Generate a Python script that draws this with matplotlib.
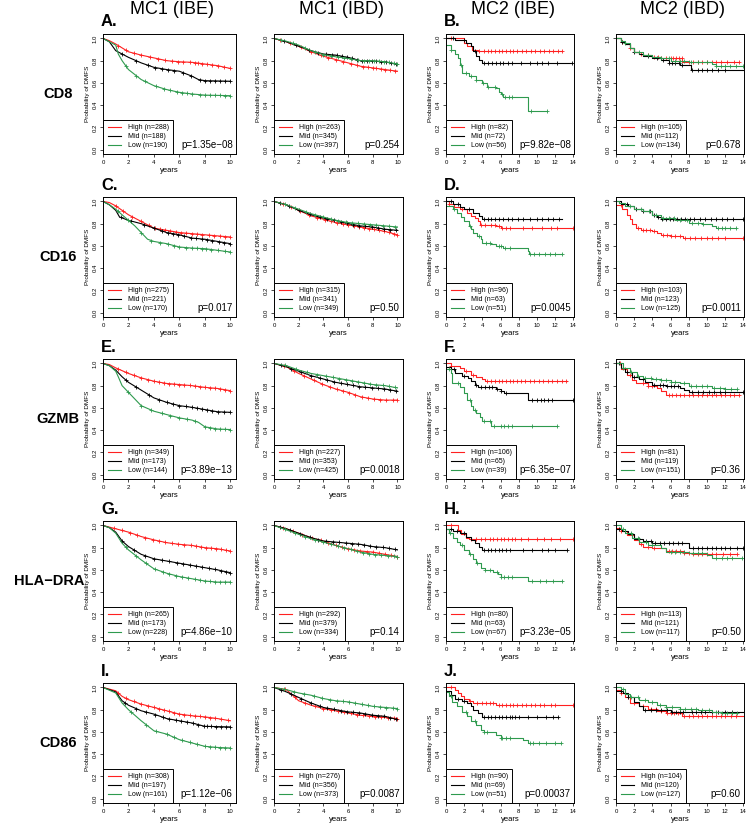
import numpy as np
import matplotlib
matplotlib.use("Agg")
import matplotlib.pyplot as plt
from matplotlib.lines import Line2D
from matplotlib.ticker import FormatStrFormatter

plt.rcParams['font.family'] = ['Liberation Sans', 'DejaVu Sans']

columns = ["MC1 (IBE)", "MC1 (IBD)", "MC2 (IBE)", "MC2 (IBD)"]
row_names = ["CD8", "CD16", "GZMB", "HLA\u2212DRA", "CD86"]
letters = [["A.", "B."], ["C.", "D."], ["E.", "F."], ["G.", "H."], ["I.", "J."]]
groups = ["High", "Mid", "Low"]
colors = ["#ff2020", "#000000", "#2e9a4e"]

n_counts = [
    [[288, 188, 190], [263, 345, 397], [82, 72, 56], [105, 112, 134]],
    [[275, 221, 170], [315, 341, 349], [96, 63, 51], [103, 123, 125]],
    [[349, 173, 144], [227, 353, 425], [106, 65, 39], [81, 119, 151]],
    [[265, 173, 228], [292, 379, 334], [80, 63, 67], [113, 121, 117]],
    [[308, 197, 161], [276, 356, 373], [90, 69, 51], [104, 120, 127]],
]
p_values = [
    ["1.35e\u221208", "0.254", "9.82e\u221208", "0.678"],
    ["0.017", "0.50", "0.0045", "0.0011"],
    ["3.89e\u221213", "0.0018", "6.35e\u221207", "0.36"],
    ["4.86e\u221210", "0.14", "3.23e\u221205", "0.50"],
    ["1.12e\u221206", "0.0087", "0.00037", "0.60"],
]

# each curve: (times, survival, censor times) for High, Mid, Low
cd8_mc1_ibe = [
    ([0, 0.5, 1, 2, 3, 4, 5, 6, 7, 8, 9, 10],
     [1.0, 0.98, 0.95, 0.88, 0.85, 0.825, 0.80, 0.79, 0.785, 0.77, 0.755, 0.73],
     [1.2, 1.8, 2.4, 3.0, 3.7, 4.3, 4.9, 5.4, 5.9, 6.3, 6.8, 7.2, 7.5, 7.8, 8.2, 8.6, 9.0, 9.5, 10.0]),
    ([0, 0.5, 1, 1.5, 2, 3, 4, 5, 6, 7, 7.5, 8, 10],
     [1.0, 0.97, 0.89, 0.86, 0.83, 0.78, 0.74, 0.72, 0.705, 0.66, 0.63, 0.62, 0.615],
     [1.5, 2.6, 3.5, 4.1, 4.6, 5.1, 5.6, 6.3, 6.9, 7.6, 8.0, 8.4, 8.8, 9.2, 9.6, 10.0]),
    ([0, 0.5, 1, 1.2, 1.5, 2, 3, 4, 5, 6, 7, 8, 10],
     [1.0, 0.97, 0.94, 0.86, 0.80, 0.72, 0.63, 0.575, 0.54, 0.515, 0.50, 0.49, 0.485],
     [1.8, 2.6, 3.3, 4.2, 4.8, 5.3, 5.8, 6.2, 6.6, 7.0, 7.6, 8.0, 8.4, 8.8, 9.2, 9.6, 10.0]),
]
cd8_mc1_ibd = [
    ([0, 1, 2, 3, 4, 5, 6, 7, 8, 9, 10],
     [1.0, 0.97, 0.93, 0.88, 0.84, 0.81, 0.78, 0.75, 0.735, 0.72, 0.705],
     [0.5, 1.3, 2.2, 3.0, 3.8, 4.4, 5.0, 5.6, 6.2, 6.7, 7.2, 7.6, 8.0, 8.3, 8.7, 9.0, 9.4, 9.8]),
    ([0, 1, 2, 3, 4, 5, 6, 7, 8, 9, 10],
     [1.0, 0.97, 0.93, 0.89, 0.86, 0.85, 0.83, 0.80, 0.795, 0.79, 0.765],
     [0.8, 1.8, 2.8, 3.6, 4.2, 4.7, 5.1, 5.5, 5.9, 6.3, 6.7, 7.1, 7.5, 7.9, 8.3, 8.7, 9.1, 9.5, 9.9]),
    ([0, 1, 2, 3, 4, 5, 6, 7, 8, 9, 10],
     [1.0, 0.975, 0.94, 0.89, 0.855, 0.835, 0.82, 0.80, 0.80, 0.79, 0.77],
     [0.6, 1.5, 2.5, 3.3, 4.0, 4.6, 5.2, 5.7, 6.2, 6.8, 7.3, 7.7, 8.1, 8.5, 8.9, 9.3, 9.7, 10.0]),
]
cd8_mc2_ibe = [
    ([0, 2.0, 2.3, 2.9, 3.5, 12.8],
     [1.0, 0.96, 0.93, 0.90, 0.885, 0.885],
     [0.5, 3.6, 4.2, 4.6, 5.0, 5.4, 5.8, 6.2, 6.6, 7.0, 7.4, 7.8, 8.3, 8.8, 9.3, 9.8, 10.3, 10.8, 11.3, 11.8, 12.3, 12.8]),
    ([0, 1.0, 2.2, 2.7, 3.0, 3.3, 3.6, 4.0, 13.9],
     [1.0, 0.985, 0.96, 0.93, 0.89, 0.84, 0.81, 0.78, 0.78],
     [0.8, 2.0, 3.2, 4.2, 4.6, 5.1, 5.5, 5.9, 6.3, 6.8, 7.2, 8.2, 9.2, 10.0, 10.6, 11.2, 12.2, 13.9]),
    ([0, 0.5, 1.0, 1.3, 1.5, 1.8, 2.5, 3.3, 4.0, 4.5, 5.5, 5.8, 6.0, 6.3, 9.0, 11.1],
     [0.94, 0.90, 0.86, 0.82, 0.76, 0.69, 0.66, 0.63, 0.60, 0.56, 0.55, 0.52, 0.50, 0.47, 0.35, 0.35],
     [0.6, 1.6, 2.2, 2.8, 3.3, 4.1, 4.6, 5.4, 6.2, 6.5, 6.9, 7.2, 9.3, 11.1]),
]
cd8_mc2_ibd = [
    ([0, 0.5, 1, 1.5, 2, 2.5, 3, 4, 5, 7.3, 13.5],
     [1.0, 0.97, 0.95, 0.91, 0.88, 0.86, 0.85, 0.83, 0.82, 0.79, 0.79],
     [0.7, 1.5, 2.8, 3.5, 4.2, 4.6, 5.0, 5.5, 6.0, 6.3, 6.6, 6.9, 7.2, 8.0, 8.5, 9.0, 9.5, 10.0, 10.5, 11.0, 11.5, 12.2, 13.0, 13.5]),
    ([0, 0.5, 1, 1.5, 2, 2.5, 3, 4, 5, 5.8, 7, 8.2, 14],
     [1.0, 0.97, 0.95, 0.91, 0.88, 0.86, 0.84, 0.82, 0.81, 0.78, 0.76, 0.72, 0.72],
     [0.7, 2.0, 3.5, 4.5, 5.2, 5.8, 6.2, 6.5, 6.9, 7.3, 8.4, 9.0, 9.5, 10.0, 10.6, 11.2, 12.0]),
    ([0, 0.5, 1, 1.5, 2, 3, 4, 5, 6, 8, 10.5, 11, 14],
     [1.0, 0.98, 0.96, 0.91, 0.88, 0.85, 0.83, 0.82, 0.80, 0.79, 0.77, 0.75, 0.75],
     [1.0, 2.5, 3.5, 5.0, 5.8, 6.5, 7.0, 7.5, 8.2, 9.0, 10.0, 11.0, 11.5, 12.0, 12.5, 13.2, 14.0]),
]

cd16_mc1_ibe = [
    ([0, 0.5, 1, 2, 3, 4, 5, 6, 7, 8, 9, 10],
     [1.0, 0.99, 0.96, 0.88, 0.82, 0.76, 0.74, 0.72, 0.71, 0.70, 0.69, 0.68],
     [1.0, 1.6, 2.3, 3.0, 3.6, 4.1, 4.5, 4.9, 5.3, 5.7, 6.1, 6.5, 7.0, 7.4, 7.8, 8.3, 8.7, 9.2, 9.6, 10.0]),
    ([0, 0.5, 1, 1.3, 2, 3, 4, 5, 6, 7, 8, 9, 10],
     [1.0, 0.97, 0.92, 0.86, 0.83, 0.80, 0.76, 0.72, 0.70, 0.67, 0.66, 0.64, 0.62],
     [1.4, 2.2, 3.2, 4.0, 4.6, 5.1, 5.5, 5.9, 6.4, 6.9, 7.3, 7.8, 8.2, 8.6, 9.1, 9.5, 10.0]),
    ([0, 0.5, 1, 1.5, 2, 2.5, 3, 3.5, 4, 5, 6, 7, 8, 9, 10],
     [1.0, 0.97, 0.93, 0.88, 0.83, 0.78, 0.72, 0.66, 0.64, 0.62, 0.59, 0.58, 0.575, 0.56, 0.545],
     [1.2, 2.0, 3.0, 3.8, 4.5, 5.1, 5.6, 6.0, 6.5, 7.0, 7.4, 7.8, 8.1, 8.5, 9.0, 9.6, 10.0]),
]
cd16_mc1_ibd = [
    ([0, 1, 2, 3, 4, 5, 6, 7, 8, 9, 10],
     [1.0, 0.97, 0.92, 0.87, 0.84, 0.81, 0.79, 0.77, 0.75, 0.73, 0.70],
     [0.7, 1.4, 2.1, 2.8, 3.5, 4.1, 4.6, 5.1, 5.6, 6.0, 6.5, 6.9, 7.3, 7.7, 8.1, 8.5, 8.9, 9.3, 9.7, 10.0]),
    ([0, 1, 2, 3, 4, 5, 6, 7, 8, 9, 10],
     [1.0, 0.97, 0.92, 0.88, 0.85, 0.83, 0.80, 0.78, 0.77, 0.75, 0.74],
     [0.5, 1.2, 2.0, 2.9, 3.7, 4.3, 4.9, 5.4, 5.9, 6.4, 6.9, 7.4, 7.9, 8.4, 8.9, 9.4, 9.9]),
    ([0, 1, 2, 3, 4, 5, 6, 7, 8, 9, 10],
     [1.0, 0.97, 0.93, 0.89, 0.86, 0.83, 0.81, 0.80, 0.79, 0.78, 0.77],
     [0.9, 1.7, 2.6, 3.3, 4.0, 4.6, 5.2, 5.8, 6.3, 6.8, 7.3, 7.8, 8.3, 8.8, 9.3, 9.8]),
]
cd16_mc2_ibe = [
    ([0, 0.3, 0.9, 1.5, 2.3, 2.8, 3.2, 3.5, 3.7, 5.5, 6.0, 14.0],
     [1.0, 0.98, 0.95, 0.93, 0.90, 0.87, 0.85, 0.82, 0.79, 0.78, 0.765, 0.765],
     [0.3, 1.8, 3.9, 4.3, 5.0, 5.4, 5.8, 6.2, 6.6, 7.0, 8.5, 9.5, 10.5, 11.5, 12.2, 14.0]),
    ([0, 0.8, 1.5, 2.0, 3.0, 3.6, 4.0, 12.8],
     [1.0, 0.98, 0.95, 0.93, 0.90, 0.87, 0.84, 0.84],
     [0.6, 1.3, 2.5, 4.2, 4.6, 5.0, 5.4, 5.8, 6.3, 6.8, 7.3, 7.9, 8.5, 9.2, 10.0, 10.6, 11.2, 11.8, 12.4]),
    ([0, 0.8, 1.2, 1.6, 2.0, 2.5, 2.8, 3.0, 3.4, 3.8, 4.0, 5.0, 5.5, 6.3, 9.0, 9.1, 12.8],
     [0.96, 0.93, 0.90, 0.86, 0.82, 0.78, 0.75, 0.72, 0.69, 0.66, 0.63, 0.62, 0.60, 0.58, 0.55, 0.53, 0.53],
     [0.9, 2.6, 3.6, 4.4, 4.8, 5.8, 6.0, 6.5, 7.0, 9.2, 9.7, 10.2, 10.9, 11.4, 12.0, 12.8]),
]
cd16_mc2_ibd = [
    ([0, 0.7, 1.2, 1.5, 1.8, 2.2, 2.7, 4.0, 4.5, 5.0, 6.0, 7.4, 14.0],
     [0.97, 0.93, 0.88, 0.84, 0.80, 0.76, 0.74, 0.73, 0.72, 0.70, 0.69, 0.67, 0.67],
     [0.5, 2.4, 3.0, 3.3, 3.7, 4.2, 5.2, 5.6, 6.1, 6.5, 7.0, 7.6, 8.1, 8.7, 9.3, 10.0, 10.6, 11.2, 12.0, 14.0]),
    ([0, 0.5, 1.3, 2.0, 3.0, 4.0, 4.5, 5.0, 14.0],
     [1.0, 0.98, 0.96, 0.93, 0.91, 0.88, 0.86, 0.84, 0.84],
     [1.2, 2.2, 3.0, 3.7, 4.2, 4.6, 5.1, 5.5, 5.9, 6.3, 6.7, 7.1, 7.6, 8.1, 8.6, 9.2, 9.8, 10.4, 11.0, 11.6, 12.2, 12.9, 14.0]),
    ([0, 0.3, 1.0, 2.0, 3.0, 4.0, 5.0, 6.5, 8.0, 9.5, 10.5, 11.0, 13.2],
     [1.0, 0.99, 0.96, 0.93, 0.91, 0.88, 0.85, 0.83, 0.81, 0.80, 0.78, 0.76, 0.76],
     [1.5, 2.8, 3.6, 4.4, 5.2, 5.8, 6.4, 7.0, 7.8, 8.4, 9.0, 9.6, 11.2, 11.6, 12.0, 12.5, 13.2]),
]

gzmb_mc1_ibe = [
    ([0, 0.5, 1, 2, 3, 4, 5, 6, 7, 8, 9, 10],
     [1.0, 0.99, 0.96, 0.91, 0.87, 0.84, 0.82, 0.81, 0.80, 0.785, 0.775, 0.755],
     [1.2, 1.8, 2.4, 3.0, 3.5, 4.0, 4.4, 4.8, 5.2, 5.6, 6.0, 6.4, 6.8, 7.2, 7.6, 8.0, 8.4, 8.8, 9.2, 9.6, 10.0]),
    ([0, 0.5, 1, 1.5, 2, 3, 4, 5, 6, 7, 8, 9, 10],
     [1.0, 0.98, 0.94, 0.88, 0.83, 0.76, 0.69, 0.65, 0.62, 0.605, 0.585, 0.565, 0.56],
     [1.8, 2.6, 3.6, 4.4, 5.0, 5.5, 6.0, 6.5, 7.0, 7.4, 7.8, 8.2, 8.6, 9.0, 9.5, 10.0]),
    ([0, 0.5, 1, 1.2, 1.5, 2, 3, 4, 5, 6, 7, 7.5, 8, 9, 10],
     [1.0, 0.98, 0.93, 0.88, 0.80, 0.74, 0.62, 0.57, 0.54, 0.51, 0.49, 0.47, 0.43, 0.41, 0.405],
     [2.0, 3.0, 3.8, 4.6, 5.3, 6.0, 6.6, 7.2, 8.0, 8.4, 8.8, 9.2, 9.6, 10.0]),
]
gzmb_mc1_ibd = [
    ([0, 1, 2, 3, 4, 5, 6, 7, 8, 9, 10],
     [1.0, 0.97, 0.91, 0.86, 0.81, 0.77, 0.74, 0.70, 0.68, 0.67, 0.67],
     [0.8, 1.6, 2.4, 3.2, 3.9, 4.5, 5.1, 5.6, 6.1, 6.6, 7.1, 7.6, 8.1, 8.6, 9.1, 9.6, 10.0]),
    ([0, 1, 2, 3, 4, 5, 6, 7, 8, 9, 10],
     [1.0, 0.97, 0.93, 0.89, 0.86, 0.83, 0.81, 0.79, 0.78, 0.77, 0.75],
     [0.6, 1.4, 2.2, 3.0, 3.7, 4.3, 4.9, 5.4, 5.9, 6.4, 6.9, 7.4, 7.9, 8.4, 8.9, 9.4, 9.9]),
    ([0, 1, 2, 3, 4, 5, 6, 7, 8, 9, 10],
     [1.0, 0.98, 0.94, 0.91, 0.89, 0.87, 0.85, 0.83, 0.81, 0.80, 0.78],
     [0.9, 1.8, 2.7, 3.5, 4.2, 4.8, 5.3, 5.8, 6.3, 6.8, 7.3, 7.8, 8.3, 8.8, 9.3, 9.8]),
]
gzmb_mc2_ibe = [
    ([0, 0.5, 1.5, 2.0, 2.7, 3.3, 4.0, 4.3, 13.3],
     [1.0, 0.98, 0.96, 0.93, 0.90, 0.88, 0.86, 0.845, 0.845],
     [0.6, 2.2, 3.0, 4.5, 5.0, 5.4, 5.8, 6.2, 6.6, 7.0, 7.4, 7.8, 8.2, 8.7, 9.2, 9.7, 10.2, 10.7, 11.2, 11.7, 12.2, 12.7, 13.2]),
    ([0, 0.5, 1.0, 1.8, 2.4, 2.8, 3.2, 3.5, 5.5, 6.0, 6.4, 9.0, 14.0],
     [0.97, 0.95, 0.91, 0.89, 0.87, 0.84, 0.81, 0.79, 0.77, 0.75, 0.73, 0.67, 0.67],
     [0.9, 2.0, 3.3, 3.8, 4.3, 4.7, 5.1, 5.6, 6.1, 6.6, 9.5, 10.0, 10.4, 10.8, 11.2, 11.6, 14.0]),
    ([0, 0.6, 0.7, 1.5, 2.0, 2.3, 2.7, 3.0, 3.3, 3.7, 4.0, 5.0, 12.2],
     [0.95, 0.91, 0.82, 0.79, 0.73, 0.67, 0.62, 0.58, 0.55, 0.52, 0.48, 0.44, 0.44],
     [0.3, 1.3, 2.6, 3.2, 4.2, 4.8, 5.3, 6.0, 6.4, 6.8, 7.2, 9.5, 12.2]),
]
gzmb_mc2_ibd = [
    ([0, 0.5, 1.2, 1.8, 2.2, 3.5, 4.5, 5.0, 5.5, 13.5],
     [1.0, 0.95, 0.90, 0.85, 0.82, 0.80, 0.78, 0.75, 0.72, 0.72],
     [0.4, 1.0, 1.5, 3.0, 3.5, 4.0, 5.8, 6.2, 6.6, 7.0, 7.5, 8.0, 8.5, 9.0, 9.5, 10.0, 10.5, 11.0, 11.5, 12.0, 12.5, 13.0, 13.5]),
    ([0, 0.5, 1.0, 1.8, 2.5, 3.2, 4.0, 5.5, 7.0, 7.5, 8.0, 14.0],
     [1.0, 0.96, 0.92, 0.88, 0.86, 0.83, 0.81, 0.80, 0.78, 0.76, 0.74, 0.74],
     [0.3, 1.2, 2.0, 3.0, 4.2, 4.8, 5.2, 5.6, 6.0, 6.4, 6.8, 8.3, 9.0, 9.6, 10.2, 10.8, 11.4, 12.0, 14.0]),
    ([0, 0.8, 1.5, 2.3, 3.0, 4.0, 5.0, 6.0, 7.0, 8.0, 10.5, 12.0, 13.3],
     [1.0, 0.96, 0.92, 0.89, 0.87, 0.86, 0.85, 0.83, 0.82, 0.80, 0.78, 0.77, 0.77],
     [0.8, 1.6, 2.4, 3.2, 3.8, 4.4, 5.0, 5.5, 6.0, 6.5, 7.5, 8.2, 8.8, 9.4, 10.0, 10.8, 11.4, 12.0, 12.6, 13.3]),
]

hla_mc1_ibe = [
    ([0, 1, 2, 3, 4, 5, 6, 7, 8, 9, 10],
     [1.0, 0.97, 0.94, 0.90, 0.87, 0.845, 0.83, 0.82, 0.80, 0.79, 0.77],
     [0.9, 1.5, 2.1, 2.7, 3.3, 3.9, 4.4, 4.9, 5.4, 5.9, 6.4, 6.9, 7.3, 7.7, 8.1, 8.5, 8.9, 9.3, 9.7, 10.0]),
    ([0, 0.5, 1, 1.5, 2, 3, 4, 5, 6, 7, 8, 9, 10],
     [1.0, 0.98, 0.94, 0.86, 0.81, 0.74, 0.70, 0.68, 0.66, 0.64, 0.62, 0.60, 0.575],
     [1.5, 2.4, 3.3, 4.0, 4.6, 5.2, 5.8, 6.3, 6.8, 7.3, 7.8, 8.3, 8.8, 9.3, 9.7, 10.0]),
    ([0, 0.5, 1, 1.5, 2, 3, 4, 5, 6, 7, 8, 9, 10],
     [1.0, 0.98, 0.93, 0.84, 0.78, 0.69, 0.61, 0.57, 0.54, 0.52, 0.50, 0.49, 0.49],
     [1.8, 2.6, 3.4, 4.1, 4.7, 5.2, 5.7, 6.2, 6.7, 7.2, 7.6, 8.0, 8.4, 8.8, 9.2, 9.6, 10.0]),
]
hla_mc1_ibd = [
    ([0, 1, 2, 3, 4, 5, 6, 7, 8, 9, 10],
     [1.0, 0.97, 0.93, 0.89, 0.86, 0.82, 0.79, 0.77, 0.76, 0.74, 0.72],
     [0.7, 1.5, 2.3, 3.1, 3.8, 4.4, 5.0, 5.5, 6.0, 6.5, 7.0, 7.5, 8.0, 8.5, 9.0, 9.5, 10.0]),
    ([0, 1, 2, 3, 4, 5, 6, 7, 8, 9, 10],
     [1.0, 0.97, 0.93, 0.89, 0.86, 0.85, 0.84, 0.83, 0.81, 0.80, 0.78],
     [0.5, 1.3, 2.1, 2.9, 3.6, 4.2, 4.8, 5.3, 5.8, 6.3, 6.8, 7.3, 7.8, 8.3, 8.8, 9.3, 9.8]),
    ([0, 1, 2, 3, 4, 5, 6, 7, 8, 9, 10],
     [1.0, 0.96, 0.92, 0.88, 0.85, 0.82, 0.79, 0.76, 0.74, 0.73, 0.72],
     [0.9, 1.7, 2.5, 3.3, 4.0, 4.6, 5.2, 5.7, 6.2, 6.7, 7.2, 7.7, 8.2, 8.7, 9.2, 9.7, 10.0]),
]
hla_mc2_ibe = [
    ([0, 1.3, 1.6, 2.2, 2.5, 14.0],
     [1.0, 0.96, 0.92, 0.89, 0.875, 0.875],
     [0.5, 2.8, 3.3, 3.8, 4.3, 4.8, 5.2, 5.6, 6.0, 6.4, 6.8, 7.2, 7.6, 8.2, 9.0, 10.0, 10.8, 11.5, 12.5, 14.0]),
    ([0, 0.8, 1.5, 2.2, 2.7, 3.2, 3.6, 4.0, 13.3],
     [0.97, 0.95, 0.93, 0.90, 0.87, 0.84, 0.81, 0.78, 0.78],
     [0.5, 1.2, 2.0, 4.2, 4.6, 5.0, 5.4, 5.8, 6.2, 6.6, 7.0, 8.5, 9.5, 10.5, 11.2, 12.0, 13.3]),
    ([0, 0.3, 0.8, 1.2, 1.5, 2.0, 2.5, 3.0, 3.3, 3.8, 4.3, 5.2, 5.7, 6.0, 9.0, 12.8],
     [0.97, 0.93, 0.89, 0.85, 0.82, 0.78, 0.74, 0.70, 0.66, 0.62, 0.60, 0.58, 0.56, 0.54, 0.50, 0.50],
     [0.4, 1.8, 2.6, 3.4, 4.3, 4.8, 5.6, 6.0, 6.4, 6.8, 7.2, 9.5, 10.3, 11.0, 11.8, 12.8]),
]
hla_mc2_ibd = [
    ([0, 0.5, 1.2, 2.0, 2.5, 3.0, 4.0, 5.5, 7.5, 8.5, 13.3],
     [0.98, 0.95, 0.91, 0.87, 0.83, 0.81, 0.80, 0.77, 0.75, 0.74, 0.74],
     [0.6, 1.8, 2.8, 3.5, 4.2, 5.8, 6.2, 6.6, 7.0, 7.5, 8.0, 8.5, 9.0, 9.5, 10.0, 10.5, 11.0, 11.8, 12.5, 13.3]),
    ([0, 0.7, 1.3, 2.0, 3.0, 4.0, 8.0, 14.0],
     [0.97, 0.95, 0.92, 0.88, 0.86, 0.84, 0.80, 0.80],
     [0.3, 1.0, 2.5, 3.3, 3.8, 4.3, 4.8, 5.3, 5.8, 6.3, 6.8, 7.3, 8.5, 9.0, 9.5, 10.0, 10.5, 11.0, 11.5, 12.0, 12.5, 13.3, 14.0]),
    ([0, 0.5, 1.0, 1.8, 2.5, 3.5, 5.0, 5.5, 8.0, 10.0, 10.5, 13.8],
     [1.0, 0.97, 0.93, 0.89, 0.85, 0.82, 0.80, 0.76, 0.75, 0.73, 0.71, 0.71],
     [0.8, 1.6, 2.4, 3.3, 4.0, 6.0, 6.5, 7.0, 7.5, 8.5, 9.0, 9.5, 11.0, 11.6, 12.2, 12.8, 13.8]),
]

cd86_mc1_ibe = [
    ([0, 1, 1.5, 2, 3, 4, 5, 6, 7, 8, 9, 10],
     [1.0, 0.97, 0.92, 0.89, 0.85, 0.82, 0.79, 0.76, 0.745, 0.735, 0.72, 0.70],
     [1.2, 1.8, 2.4, 3.0, 3.5, 4.0, 4.4, 4.8, 5.2, 5.6, 6.0, 6.4, 6.8, 7.2, 7.6, 8.0, 8.4, 8.8, 9.3, 9.8]),
    ([0, 1, 1.5, 2, 3, 4, 5, 6, 7, 8, 10],
     [1.0, 0.96, 0.88, 0.84, 0.79, 0.76, 0.72, 0.70, 0.68, 0.65, 0.645],
     [1.7, 2.6, 3.4, 4.1, 4.7, 5.2, 5.7, 6.1, 6.6, 7.1, 7.5, 7.9, 8.2, 8.5, 8.9, 9.3, 9.7, 10.0]),
    ([0, 1, 1.5, 2, 3, 4, 5, 6, 7, 8, 9, 10],
     [1.0, 0.95, 0.86, 0.80, 0.70, 0.61, 0.58, 0.53, 0.50, 0.47, 0.46, 0.455],
     [2.2, 3.4, 4.2, 5.0, 5.6, 6.2, 6.8, 7.4, 8.0, 8.4, 8.8, 9.2, 9.6, 10.0]),
]
cd86_mc1_ibd = [
    ([0, 1, 1.5, 2, 3, 4, 5, 6, 7, 8, 9, 10],
     [1.0, 0.98, 0.93, 0.88, 0.84, 0.81, 0.79, 0.77, 0.75, 0.74, 0.73, 0.72],
     [0.9, 1.7, 2.5, 3.3, 4.0, 4.6, 5.2, 5.7, 6.2, 6.7, 7.2, 7.7, 8.2, 8.7, 9.2, 9.7, 10.0]),
    ([0, 1, 2, 3, 4, 5, 6, 7, 8, 9, 10],
     [1.0, 0.96, 0.91, 0.86, 0.82, 0.80, 0.78, 0.77, 0.75, 0.74, 0.71],
     [0.6, 1.4, 2.2, 3.0, 3.7, 4.3, 4.9, 5.4, 5.9, 6.4, 6.9, 7.4, 7.9, 8.4, 8.9, 9.4, 9.9]),
    ([0, 1, 2, 3, 4, 5, 6, 7, 8, 9, 10],
     [1.0, 0.98, 0.95, 0.93, 0.90, 0.88, 0.87, 0.85, 0.83, 0.82, 0.81],
     [0.8, 1.6, 2.4, 3.2, 3.9, 4.5, 5.1, 5.6, 6.1, 6.6, 7.1, 7.6, 8.1, 8.6, 9.1, 9.6, 10.0]),
]
cd86_mc2_ibe = [
    ([0, 1.0, 1.3, 1.7, 2.0, 2.5, 3.0, 5.5, 14.0],
     [1.0, 0.98, 0.95, 0.92, 0.90, 0.88, 0.86, 0.845, 0.845],
     [0.5, 2.6, 3.4, 4.0, 4.4, 4.8, 5.2, 5.8, 6.2, 6.6, 7.0, 7.4, 7.8, 8.3, 8.8, 9.3, 9.8, 10.3, 10.8, 11.5, 12.0, 14.0]),
    ([0, 0.5, 1.0, 1.8, 2.3, 2.7, 3.0, 3.5, 4.0, 12.3],
     [0.97, 0.93, 0.90, 0.88, 0.86, 0.83, 0.80, 0.77, 0.735, 0.735],
     [0.5, 1.3, 2.0, 4.2, 4.6, 5.0, 5.4, 5.8, 6.2, 6.6, 7.0, 7.3, 7.6, 8.0, 9.0, 10.0, 11.0, 11.8, 12.3]),
    ([0, 0.3, 0.7, 1.2, 1.8, 2.3, 2.8, 3.3, 3.8, 4.2, 5.5, 6.0, 8.5, 9.0, 12.6],
     [0.96, 0.92, 0.87, 0.83, 0.78, 0.74, 0.70, 0.66, 0.62, 0.60, 0.57, 0.545, 0.53, 0.50, 0.50],
     [0.6, 2.2, 3.2, 4.2, 4.5, 6.0, 6.2, 6.6, 7.0, 9.2, 9.6, 10.2, 11.0, 12.0, 12.6]),
]
cd86_mc2_ibd = [
    ([0, 0.5, 1.0, 1.5, 2.5, 3.5, 4.5, 5.5, 7.3, 14.0],
     [0.98, 0.95, 0.91, 0.86, 0.83, 0.81, 0.79, 0.77, 0.74, 0.74],
     [0.6, 1.3, 2.0, 3.0, 3.8, 4.4, 5.0, 5.6, 6.0, 6.4, 6.8, 7.5, 8.0, 8.5, 9.0, 9.5, 10.0, 10.5, 11.0, 11.5, 12.0, 12.6, 13.2]),
    ([0, 0.8, 1.3, 2.0, 2.5, 3.0, 6.0, 8.0, 14.0],
     [0.97, 0.95, 0.91, 0.87, 0.83, 0.795, 0.78, 0.775, 0.775],
     [0.6, 1.3, 3.2, 3.8, 4.4, 5.0, 5.6, 6.2, 6.6, 7.0, 7.4, 8.3, 8.8, 9.3, 9.8, 10.5, 11.2, 12.0, 12.8]),
    ([0, 0.5, 1.0, 1.5, 2.5, 3.5, 4.5, 5.5, 7.0, 9.0, 10.5, 11.5, 13.3],
     [1.0, 0.99, 0.94, 0.91, 0.89, 0.87, 0.84, 0.82, 0.81, 0.80, 0.78, 0.77, 0.77],
     [0.8, 1.6, 2.4, 3.2, 4.0, 4.8, 5.5, 6.2, 7.0, 7.6, 8.2, 8.8, 9.5, 10.2, 11.0, 11.6, 12.2, 12.8, 13.3]),
]

panels = [
    [cd8_mc1_ibe, cd8_mc1_ibd, cd8_mc2_ibe, cd8_mc2_ibd],
    [cd16_mc1_ibe, cd16_mc1_ibd, cd16_mc2_ibe, cd16_mc2_ibd],
    [gzmb_mc1_ibe, gzmb_mc1_ibd, gzmb_mc2_ibe, gzmb_mc2_ibd],
    [hla_mc1_ibe, hla_mc1_ibd, hla_mc2_ibe, hla_mc2_ibd],
    [cd86_mc1_ibe, cd86_mc1_ibd, cd86_mc2_ibe, cd86_mc2_ibd],
]

W, H = 750, 825
col_left = [103, 274, 446, 616]
col_w = [133, 129, 128, 128]
row_top = [34, 197, 359, 521, 683]
ax_h = 120
# the long HLA-DRA label is nudged left so it clears the y label
row_label_x = [58, 58, 58, 49, 58]


def draw_curve(ax, curve, color, step):
    t, s, cens = curve
    t = np.asarray(t, float)
    s = np.asarray(s, float)
    cens = np.asarray(cens, float)
    if step:
        ax.step(t, s, where='post', color=color, lw=0.8)
        cy = s[np.searchsorted(t, cens, side='right') - 1]
    else:
        ax.plot(t, s, color=color, lw=0.8)
        cy = np.interp(cens, t, s)
    ax.plot(cens, cy, ls='none', marker='+', ms=3.2, mew=0.6, color=color)


fig = plt.figure(figsize=(W / 100, H / 100), dpi=100)

for r in range(5):
    for c in range(4):
        rect = [col_left[c] / W, 1 - (row_top[r] + ax_h) / H, col_w[c] / W, ax_h / H]
        ax = fig.add_axes(rect)
        mc2 = c >= 2
        for k in range(3):
            draw_curve(ax, panels[r][c][k], colors[k], mc2)

        xmax = 14 if mc2 else 10
        ax.set_xlim(0, 14.07 if mc2 else 10.45)
        ax.set_ylim(-0.04, 1.04)
        ax.set_xticks(np.arange(0, xmax + 1, 2))
        ax.set_yticks(np.arange(0, 1.01, 0.2))
        ax.yaxis.set_major_formatter(FormatStrFormatter('%.1f'))
        ax.tick_params(length=2.5, width=0.5, pad=1.5, labelsize=4.3)
        for lbl in ax.get_yticklabels():
            lbl.set_rotation(90)
            lbl.set_va('center')
        for sp in ax.spines.values():
            sp.set_linewidth(0.7)
        ax.set_xlabel("years", fontsize=5.5, labelpad=1.5)
        ax.set_ylabel("Probability of DMFS", fontsize=4.6, labelpad=2)

        handles = [Line2D([0], [0], color=colors[k], lw=0.8) for k in range(3)]
        labels = ["%s (n=%d)" % (groups[k], n_counts[r][c][k]) for k in range(3)]
        leg = ax.legend(handles, labels, loc='lower left', fontsize=5,
                        handlelength=2.0, handletextpad=0.9, borderpad=0.65,
                        labelspacing=0.3, borderaxespad=0, fancybox=False,
                        framealpha=1, edgecolor='black')
        leg.get_frame().set_linewidth(0.7)

        ax.text(0.975, 0.035, "p=" + p_values[r][c], transform=ax.transAxes,
                ha='right', va='bottom', fontsize=7)

        if c == 0 or c == 2:
            fig.text((col_left[c] - 2) / W, 1 - (row_top[r] - 12) / H,
                     letters[r][c // 2], fontsize=12, fontweight='bold',
                     ha='left', va='center')

    fig.text(row_label_x[r] / W, 1 - (row_top[r] + ax_h / 2) / H, row_names[r],
             fontsize=10.5, fontweight='bold', ha='center', va='center')

for c in range(4):
    fig.text((col_left[c] + col_w[c] / 2 + 3) / W, 1 - 10 / H, columns[c],
             fontsize=13, ha='center', va='center')

fig.savefig("out.png", dpi=100)
